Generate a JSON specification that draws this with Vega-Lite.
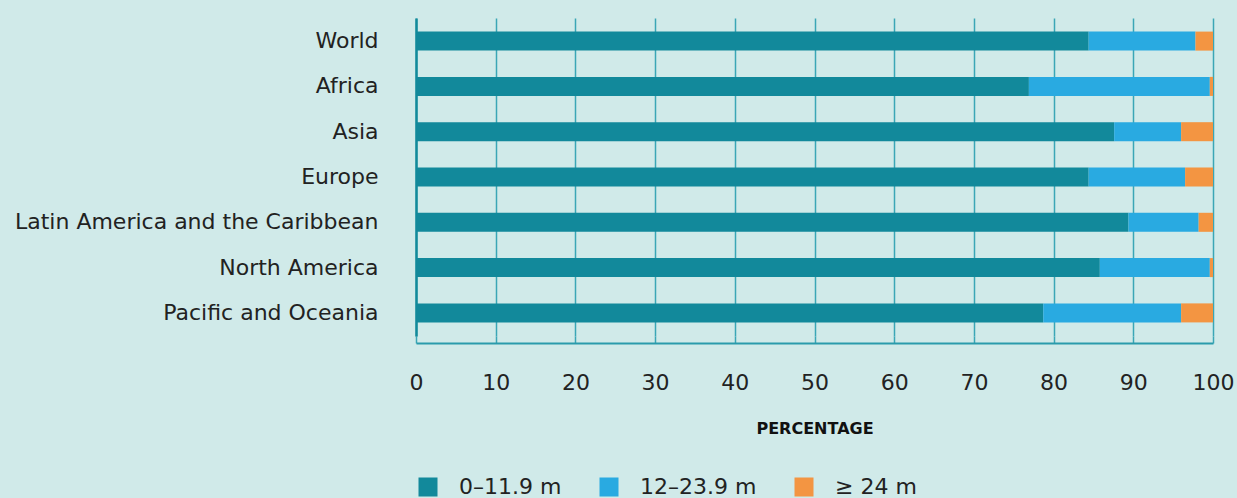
{
  "$schema": "https://vega.github.io/schema/vega-lite/v6.json",
  "width": 797,
  "height": 318,
  "autosize": {"type": "none"},
  "padding": {"left": 416, "top": 18, "right": 24, "bottom": 162},
  "background": "#d0eae9",
  "config": {
    "view": {"stroke": null},
    "font": "DejaVu Sans"
  },
  "data": {
    "values": [
      {"region": "World", "bin": "0–11.9 m", "value": 84.4},
      {"region": "World", "bin": "12–23.9 m", "value": 13.4},
      {"region": "World", "bin": "≥ 24 m", "value": 2.2},
      {"region": "Africa", "bin": "0–11.9 m", "value": 76.9},
      {"region": "Africa", "bin": "12–23.9 m", "value": 22.7},
      {"region": "Africa", "bin": "≥ 24 m", "value": 0.4},
      {"region": "Asia", "bin": "0–11.9 m", "value": 87.6},
      {"region": "Asia", "bin": "12–23.9 m", "value": 8.4},
      {"region": "Asia", "bin": "≥ 24 m", "value": 4.0},
      {"region": "Europe", "bin": "0–11.9 m", "value": 84.4},
      {"region": "Europe", "bin": "12–23.9 m", "value": 12.1},
      {"region": "Europe", "bin": "≥ 24 m", "value": 3.5},
      {"region": "Latin America and the Caribbean", "bin": "0–11.9 m", "value": 89.4},
      {"region": "Latin America and the Caribbean", "bin": "12–23.9 m", "value": 8.8},
      {"region": "Latin America and the Caribbean", "bin": "≥ 24 m", "value": 1.8},
      {"region": "North America", "bin": "0–11.9 m", "value": 85.8},
      {"region": "North America", "bin": "12–23.9 m", "value": 13.8},
      {"region": "North America", "bin": "≥ 24 m", "value": 0.4},
      {"region": "Pacific and Oceania", "bin": "0–11.9 m", "value": 78.7},
      {"region": "Pacific and Oceania", "bin": "12–23.9 m", "value": 17.3},
      {"region": "Pacific and Oceania", "bin": "≥ 24 m", "value": 4.0}
    ]
  },
  "mark": {"type": "bar"},
  "encoding": {
    "y": {
      "field": "region",
      "type": "nominal",
      "sort": null,
      "scale": {"paddingInner": 0.58, "paddingOuter": 0.3},
      "axis": {
        "title": null,
        "ticks": false,
        "labelPadding": 38,
        "labelLimit": 0,
        "labelFontSize": 22,
        "labelColor": "#222222",
        "domainColor": "#128a9b",
        "domainWidth": 2.5
      }
    },
    "x": {
      "field": "value",
      "type": "quantitative",
      "stack": "zero",
      "scale": {"domain": [0, 100], "nice": false},
      "axis": {
        "values": [0, 10, 20, 30, 40, 50, 60, 70, 80, 90, 100],
        "title": "PERCENTAGE",
        "titleFontSize": 16,
        "titleFontWeight": "bold",
        "titleColor": "#111111",
        "titlePadding": 27,
        "offset": 7,
        "tickSize": -7,
        "tickColor": "#3aa6b6",
        "tickWidth": 1.5,
        "grid": true,
        "gridColor": "#3aa6b6",
        "gridWidth": 1.5,
        "domainColor": "#2a9bac",
        "domainWidth": 2,
        "labelPadding": 36,
        "labelFlush": false,
        "labelFontSize": 22,
        "labelColor": "#222222"
      }
    },
    "color": {
      "field": "bin",
      "type": "nominal",
      "scale": {
        "domain": ["0–11.9 m", "12–23.9 m", "≥ 24 m"],
        "range": ["#12899b", "#29aae1", "#f39542"]
      },
      "legend": {
        "title": null,
        "orient": "none",
        "direction": "horizontal",
        "legendX": 1,
        "legendY": 458,
        "symbolType": "square",
        "symbolSize": 361,
        "symbolStrokeWidth": 0,
        "symbolOpacity": 1,
        "labelFontSize": 22,
        "labelColor": "#222222",
        "labelOffset": 20,
        "columnPadding": 36
      }
    }
  }
}
